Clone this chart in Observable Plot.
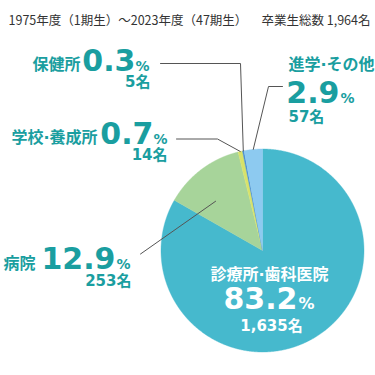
<!DOCTYPE html>
<html>
<head>
<meta charset="utf-8">
<script src="https://cdn.jsdelivr.net/npm/d3@7"></script>
<script src="https://cdn.jsdelivr.net/npm/@observablehq/plot@0.6"></script>
<style>
  html, body { margin: 0; padding: 0; background: #fff; }
  #chart svg { display: block; }
</style>
</head>
<body>
<div id="chart"></div>
<script>
// ---- data ----
const categories = ["診療所·歯科医院", "病院", "学校·養成所", "保健所", "進学·その他"];
const counts = [1635, 253, 14, 5, 57];
const percentLabels = ["83.2", "12.9", "0.7", "0.3", "2.9"];
const countLabels = ["1,635名", "253名", "14名", "5名", "57名"];
const titleLeft = "1975年度（1期生）～2023年度（47期生）";
const titleRight = "卒業生総数 1,964名";

// ---- styles / layout ----
const sliceColors = ["#46B9CD", "#A7D49A", "#D8E26A", "#4A8FD0", "#8DCAF0"];
const textTeal = "#1A9EA0";
const pie = {cx: 262, cy: 250, r: 101.5};
// label layout: name/number/percent/count anchors (pixel coords of the 375x375 frame)
const labelLayout = [
  {name: [269, 279, "middle"], num: [297, 308], pct: [298, 308], cnt: [271, 330, "middle"], color: "#ffffff", pctSize: 16},
  {name: [35, 268, "end"], num: [115, 268], pct: [116, 268], cnt: [131, 285, "end"], color: textTeal, pctSize: 14},
  {name: [97, 142, "end"], num: [153, 143], pct: [153, 143], cnt: [167, 159, "end"], color: textTeal, pctSize: 14},
  {name: [80, 69, "end"], num: [135, 70], pct: [135, 70], cnt: [150, 86, "end"], color: textTeal, pctSize: 14},
  {name: [288, 69, "start"], num: [339, 102], pct: [340, 102], cnt: [288, 121, "start"], color: textTeal, pctSize: 14}
];
// leader lines: label-side points, then slice anchor (angle fraction within slice, radius fraction)
const leaderLayout = [
  {i: 1, pts: [[140, 253.5]], af: 0.36, rf: 0.67},
  {i: 2, pts: [[176, 138.5], [217, 138.5]], af: 0.5, rf: 1.0},
  {i: 3, pts: [[160, 63], [240, 63]], af: 0.5, rf: 1.0},
  {i: 4, pts: [[282, 86], [268, 86]], af: 0.5, rf: 1.0}
];

// ---- geometry from values ----
const arcs = d3.pie().sort(null).startAngle(0).endAngle(2 * Math.PI)(counts);
const polar = (a, rr) => [pie.cx + rr * Math.sin(a), pie.cy - rr * Math.cos(a)];
const slicePts = [];
arcs.forEach((a, i) => {
  const cat = categories[i];
  const n = Math.max(2, Math.ceil((a.endAngle - a.startAngle) / (Math.PI / 720)));
  slicePts.push({cat, x: pie.cx, y: pie.cy});
  for (let k = 0; k <= n; k++) {
    const t = a.startAngle + (a.endAngle - a.startAngle) * k / n;
    const [x, y] = polar(t, pie.r);
    slicePts.push({cat, x, y});
  }
  slicePts.push({cat, x: pie.cx, y: pie.cy});
});

const leaderPts = [];
leaderLayout.forEach((L, j) => {
  L.pts.forEach(([x, y]) => leaderPts.push({id: j, x, y}));
  const a = arcs[L.i];
  const ang = a.startAngle + (a.endAngle - a.startAngle) * L.af;
  const [x, y] = polar(ang, pie.r * L.rf);
  leaderPts.push({id: j, x, y});
});

const numFont = "DejaVu Sans, Liberation Sans, sans-serif";
const jpFont = "DejaVu Sans, Noto Sans CJK JP, sans-serif";
const cntFont = "DejaVu Sans, Noto Sans CJK JP, sans-serif";

const textMarks = [];
categories.forEach((cat, i) => {
  const L = labelLayout[i];
  const d = [{i}];
  textMarks.push(Plot.text(d, {x: () => L.name[0], y: () => L.name[1], text: () => cat,
    textAnchor: L.name[2], lineAnchor: "bottom", fill: L.color, fontSize: 16, fontWeight: 700, fontFamily: jpFont}));
  textMarks.push(Plot.text(d, {x: () => L.num[0], y: () => L.num[1], text: () => percentLabels[i],
    textAnchor: "end", lineAnchor: "bottom", fill: L.color, fontSize: 30, fontWeight: 700, fontFamily: numFont}));
  textMarks.push(Plot.text(d, {x: () => L.pct[0], y: () => L.pct[1], text: () => "%",
    textAnchor: "start", lineAnchor: "bottom", fill: L.color, fontSize: L.pctSize, fontWeight: 700, fontFamily: numFont}));
  textMarks.push(Plot.text(d, {x: () => L.cnt[0], y: () => L.cnt[1], text: () => countLabels[i],
    textAnchor: L.cnt[2], lineAnchor: "bottom", fill: L.color, fontSize: 15, fontWeight: 700, fontFamily: cntFont}));
});

const chart = Plot.plot({
  width: 375,
  height: 375,
  margin: 0,
  x: {domain: [0, 375], range: [0, 375], axis: null},
  y: {domain: [0, 375], range: [0, 375], axis: null},
  color: {domain: categories, range: sliceColors},
  style: {background: "#fff"},
  marks: [
    Plot.line(slicePts, {x: "x", y: "y", z: "cat", fill: "cat", stroke: "cat", strokeWidth: 0.4, curve: "linear"}),
    Plot.line(leaderPts, {x: "x", y: "y", z: "id", stroke: "#555", strokeWidth: 1, curve: "linear"}),
    Plot.text([titleLeft], {x: () => 8, y: () => 24, text: d => d, textAnchor: "start", lineAnchor: "bottom",
      fill: "#333", fontSize: 12.5, fontFamily: "Noto Sans CJK JP, sans-serif"}),
    Plot.text([titleRight], {x: () => 370, y: () => 24, text: d => d, textAnchor: "end", lineAnchor: "bottom",
      fill: "#333", fontSize: 12.5, fontFamily: "Noto Sans CJK JP, sans-serif"}),
    ...textMarks
  ]
});
document.getElementById("chart").appendChild(chart);
</script>
</body>
</html>
